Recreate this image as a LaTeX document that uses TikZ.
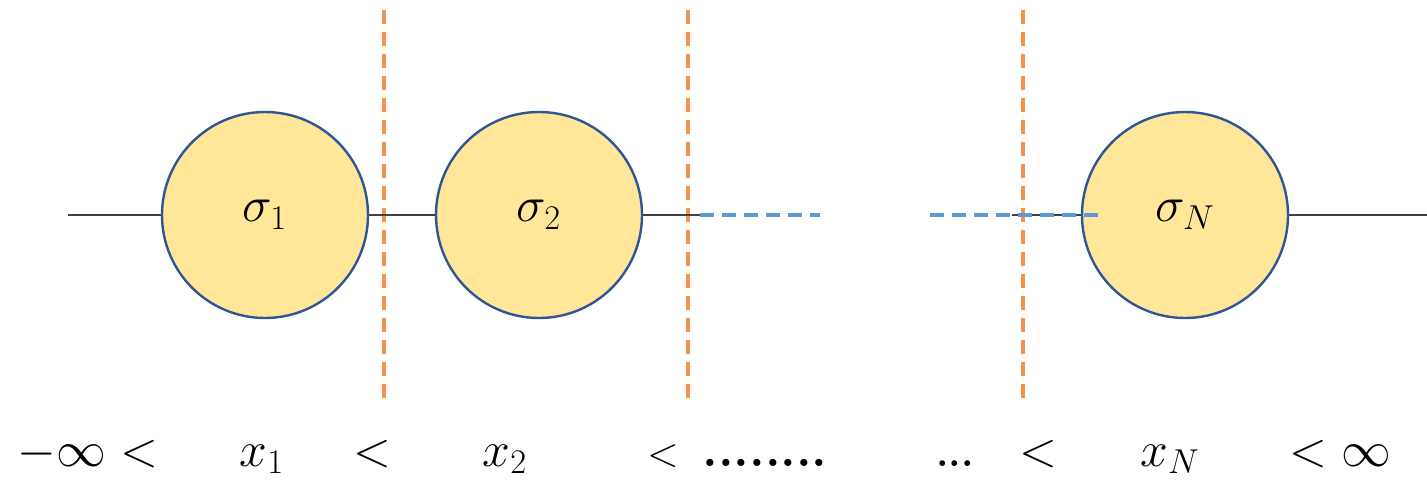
\documentclass[tikz,border=0pt]{standalone}
\usepackage{amsmath}
\definecolor{fillY}{HTML}{FFE699}
\definecolor{edgeB}{HTML}{2F5597}
\definecolor{orng}{HTML}{F4914A}
\definecolor{blu}{HTML}{5B9BD5}
\definecolor{lin}{HTML}{404040}
\begin{document}
\begin{tikzpicture}[x=0.5pt,y=-0.5pt,
  site/.style={circle,draw=edgeB,line width=1.2pt,fill=fillY,minimum size=103pt,inner sep=0pt,font=\fontsize{26}{30}\selectfont},
  chain/.style={draw=lin,line width=0.75pt},
  cut/.style={draw=orng,line width=1.6pt,dash pattern=on 7pt off 4pt},
  gap/.style={draw=blu,line width=1.6pt,dash pattern=on 7pt off 4pt},
  lbl/.style={anchor=base,inner sep=0pt,font=\fontsize{26}{30}\selectfont}]
\useasboundingbox (0,0) rectangle (1427,483);
% cut lines
\coordinate (c1t) at (384,10); \coordinate (c1b) at (384,400);
\coordinate (c2t) at (688,10); \coordinate (c2b) at (688,400);
\coordinate (c3t) at (1023,10); \coordinate (c3b) at (1023,400);
\draw[cut] (c1t) -- (c1b);
\draw[cut] (c2t) -- (c2b);
\draw[cut] (c3t) -- (c3b);
% chain
\coordinate (L) at (68,215);
\coordinate (R) at (1427,215);
\coordinate (d1a) at (700,215); \coordinate (d1b) at (820,215);
\coordinate (d2a) at (930,215); \coordinate (d2b) at (1100,215);
\coordinate (k) at (1012,215);
\node[site] (s1) at (265,215) {$\sigma_1$};
\node[site] (s2) at (539,215) {$\sigma_2$};
\draw[chain] (k) -- (1082,215);
\node[site] (sN) at (1185,215) {$\sigma_N$};
\draw[chain] (L) -- (s1.west);
\draw[chain] (s1.east) -- (s2.west);
\draw[chain] (s2.east) -- (d1a);
\draw[chain] (sN.east) -- (R);
\draw[gap] (d1a) -- (d1b);
\draw[gap] (d2a) -- (d2b);
% labels
\node[lbl] (t1) at (88,466) {$-\infty<$};
\node[lbl] (t2) at (262,466) {$x_1$};
\node[lbl] (t3) at (372,466) {$<$};
\node[lbl] (t4) at (505,466) {$x_2$};
\node[lbl,font=\fontsize{22}{26}\selectfont] (t5) at (663,466) {$<$};
\node[lbl,font=\fontsize{25}{30}\bfseries] (t6) at (765,466) {........};
\node[lbl,font=\fontsize{20}{24}\bfseries] (t7) at (955,466) {...};
\node[lbl] (t8) at (1038,466) {$<$};
\node[lbl] (t9) at (1170,466) {$x_N$};
\node[lbl] (t10) at (1340,466) {$<\infty$};
\end{tikzpicture}
\end{document}
